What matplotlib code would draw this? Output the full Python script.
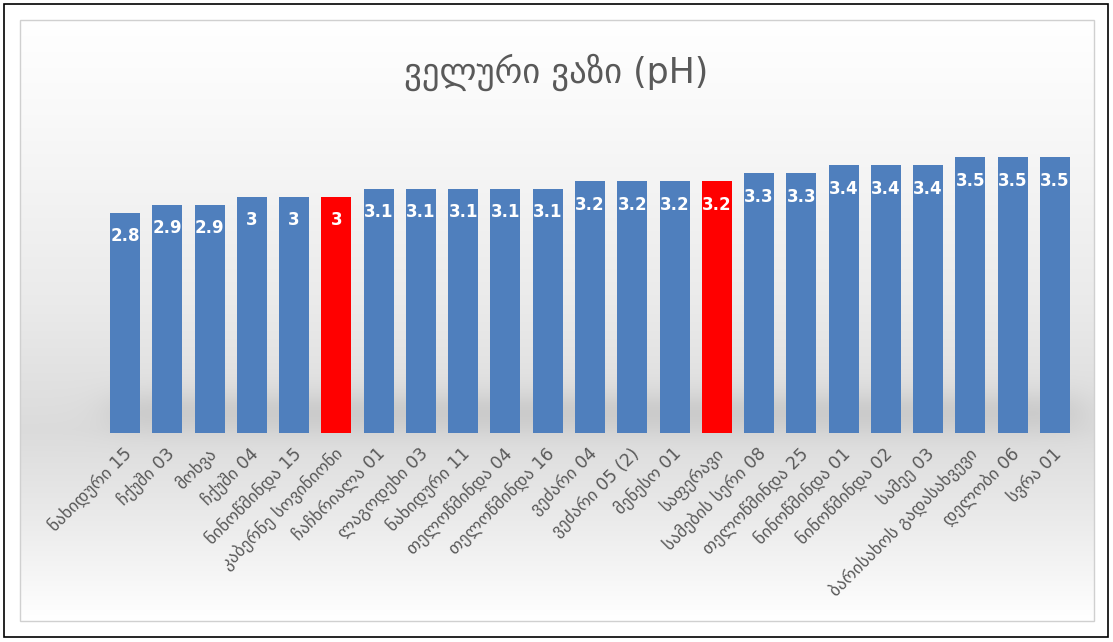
import numpy as np
import matplotlib
matplotlib.use("Agg")
import matplotlib.pyplot as plt
from matplotlib.patches import Rectangle
from matplotlib.transforms import ScaledTranslation

plt.rcParams['font.family'] = ['DejaVu Sans']

# ---- data ----
categories = [
    "ნახიდური 15", "ჩქუში 03", "მოხვა", "ჩქუში 04", "ნინოწმინდა 15",
    "კაბერნე სოვინიონი", "ჩაჩხრიალა 01", "ლაგოდეხი 03", "ნახიდური 11",
    "თელოწმინდა 04", "თელოწმინდა 16", "ვეძარი 04", "ვეძარი 05 (2)",
    "მენესო 01", "საფერავი", "სამების სერი 08", "თელოწმინდა 25",
    "ნინოწმინდა 01", "ნინოწმინდა 02", "სამეე 03", "ბარისახოს გადასახვევი",
    "დელობი 06", "სვრა 01",
]
ph_values = [2.8, 2.9, 2.9, 3.0, 3.0, 3.0, 3.1, 3.1, 3.1, 3.1, 3.1, 3.2, 3.2,
             3.2, 3.2, 3.3, 3.3, 3.4, 3.4, 3.4, 3.5, 3.5, 3.5]
highlighted = ["კაბერნე სოვინიონი", "საფერავი"]
title = "ველური ვაზი (pH)"

W, H = 1113, 642
fig = plt.figure(figsize=(W / 100, H / 100), dpi=100)
fig.patch.set_facecolor("white")

# ---- background: framed chart area with a soft vertical gradient ----
bg = fig.add_axes([0, 0, 1, 1], zorder=-10)
bg.set_xlim(0, W)
bg.set_ylim(H, 0)
bg.axis("off")

x0, x1, y0, y1 = 20, 1094, 20, 621
yy = np.linspace(y0, y1, 400)[:, None]
xx = np.linspace(x0, x1, 600)[None, :]
knots_y = [20, 120, 300, 430, 520, 621]
knots_v = [1.0, 0.975, 0.92, 0.86, 0.92, 1.0]
shade = np.interp(yy, knots_y, knots_v) * np.ones_like(xx)
# floor shadow beneath the bars
band = np.exp(-((yy - 412) / 22.0) ** 2)
ends = 1 / (1 + np.exp(-(xx - 110) / 12)) * 1 / (1 + np.exp((xx - 1082) / 12))
shade = shade - 0.07 * band * ends
rgb = np.clip(np.dstack([shade, shade, shade]), 0, 1)
bg.imshow(rgb, extent=[x0, x1, y1, y0], aspect="auto", interpolation="bilinear")
bg.add_patch(Rectangle((x0, y0), x1 - x0, y1 - y0, fill=False,
                       edgecolor="#d0d0d0", linewidth=1))
bg.add_patch(Rectangle((4, 4), W - 9, H - 9, fill=False,
                       edgecolor="black", linewidth=1.2))

# ---- bars ----
left_px, right_px = 104, 1076
base_px, top_px = 433, 118
ax = fig.add_axes([left_px / W, 1 - base_px / H,
                   (right_px - left_px) / W, (base_px - top_px) / H])
ax.patch.set_alpha(0)
x = np.arange(len(categories))
colors = ["#FF0000" if c in highlighted else "#4F7FBD" for c in categories]
ax.bar(x, ph_values, width=0.71, color=colors, edgecolor="none")
ax.set_xlim(-0.5, len(categories) - 0.5)
ax.set_ylim(0, 4.0)

for i, v in enumerate(ph_values):
    ax.annotate(f"{v:g}", (i, v), xytext=(0, -17), textcoords="offset points",
                ha="center", va="center", color="white", fontsize=12,
                fontweight="bold")

ax.set_xticks(x)
ax.set_xticklabels(categories, rotation=45, ha="right", va="center",
                   rotation_mode="anchor", fontsize=12.5, color="#595959")
ax.tick_params(axis="x", length=0, pad=13)
shift = ScaledTranslation(3 / 72, 0, fig.dpi_scale_trans)
for lbl in ax.get_xticklabels():
    lbl.set_transform(lbl.get_transform() + shift)
ax.set_yticks([])
for s in ax.spines.values():
    s.set_visible(False)

fig.text(0.5, 1 - 72 / H, title, ha="center", va="center",
         fontsize=25, color="#595959")

fig.savefig("out.png", dpi=100)
